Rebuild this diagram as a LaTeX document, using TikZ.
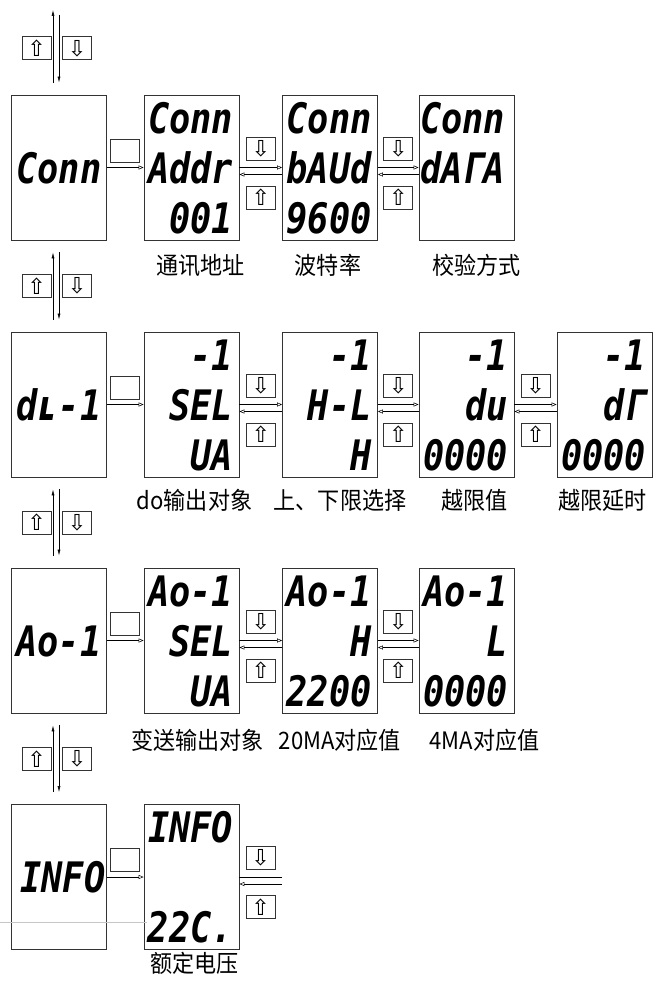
\documentclass[tikz,border=0pt]{standalone}
\usepackage{fontspec}
\usepackage{tikz}
\usetikzlibrary{arrows.meta,calc}
\newfontfamily\lcdfont{DejaVu Sans Mono}[FakeStretch=0.84]
\newfontfamily\symfont{DejaVu Sans}
\newfontfamily\cjk{Noto Sans CJK SC}[FakeStretch=0.92]
\tikzset{
  screen/.style={draw=black!80,line width=0.8pt,minimum width=95pt,minimum height=145pt,inner sep=0pt},
  lcd/.style={font=\lcdfont\bfseries\itshape\fontsize{42}{42}\selectfont,inner sep=0pt,text height=31pt,text depth=0pt},
  key/.style={draw=black!80,line width=0.6pt,minimum width=29pt,minimum height=23pt,inner sep=0pt,font=\symfont\fontsize{22}{22}\selectfont},
  caption/.style={font=\cjk\fontsize{24}{24}\selectfont,inner sep=0pt},
  link/.style={line width=0.5pt},
  updown/.style={line width=0.6pt,>={Latex[length=6pt,width=3pt]}},
}
% three right-aligned lines of one screen
\newcommand{\screenlines}[4]{%
  \node[lcd,anchor=east] (#1-a) at ([xshift=-6pt,yshift=50pt]#1.east) {#2};
  \node[lcd,anchor=east] (#1-b) at ([xshift=-6pt]#1.east) {#3};
  \node[lcd,anchor=east] (#1-c) at ([xshift=-6pt,yshift=-50pt]#1.east) {#4};
}
% forth and back between two screens of a row, keys above and below
\newcommand{\keylink}[2]{%
  \draw[link,->] (#1.east) -- (#2.west);
  \draw[link,<-] ([yshift=-7pt]#1.east) -- ([yshift=-7pt]#2.west);
  \node[key] (#1-dn) at ($(#1.east)!0.5!(#2.west)+(0,-19)$) {⇩};
  \node[key] (#1-up) at ($(#1.east)!0.5!(#2.west)+(0,30)$) {⇧};
}
% up/down between two menus of the first column
\newcommand{\menulink}[2]{%
  \draw[updown,<-] ([xshift=-6pt,yshift=-12pt]#1.south) -- ([xshift=-6pt,yshift=12pt]#2.north);
  \draw[updown,->] ([yshift=-12pt]#1.south) -- ([yshift=12pt]#2.north);
  \node[key] (#2-mu) at ($(#1.south)!0.5!(#2.north)+(-22.5,0)$) {⇧};
  \node[key] (#2-md) at ($(#1.south)!0.5!(#2.north)+(18,0)$) {⇩};
}

\begin{document}
\begin{tikzpicture}[x=1pt,y=-1pt,>={Triangle[open,length=5pt,width=4pt]}]
  \useasboundingbox (0,0) rectangle (656,982);
  % screens, rows Conn / dL-1 / Ao-1 / INFO
  \node[screen] (conn)      at (59,167.5) {};
  \node[screen] (conn-addr) at (191.5,167.5) {};
  \node[screen] (conn-baud) at (330,167.5) {};
  \node[screen] (conn-data) at (466.5,167.5) {};
  \node[screen] (dl)    at (59,404.5) {};
  \node[screen] (dl-sel) at (191.5,404.5) {};
  \node[screen] (dl-hl) at (330,404.5) {};
  \node[screen] (dl-du) at (466.5,404.5) {};
  \node[screen] (dl-dt) at (604.5,404.5) {};
  \node[screen] (ao)     at (59,640.5) {};
  \node[screen] (ao-sel) at (191.5,640.5) {};
  \node[screen] (ao-h)   at (330,640.5) {};
  \node[screen] (ao-l)   at (466.5,640.5) {};
  \node[screen] (info)      at (59,877) {};
  \node[screen] (info-volt) at (191.5,877) {};

  % what the screens show
  \node[lcd] (conn-t) at (conn) {Conn};
  \screenlines{conn-addr}{Conn}{Addr}{001}
  \screenlines{conn-baud}{Conn}{bAUd}{9600}
  \node[lcd,anchor=east] (conn-data-a) at ([xshift=-9pt,yshift=50pt]conn-data.east) {Conn};
  \node[lcd,anchor=east] (conn-data-b) at ([xshift=-9pt]conn-data.east) {dAΓA};
  \node[lcd] (dl-t) at (dl) {dʟ-1};
  \screenlines{dl-sel}{-1}{SEL}{UA}
  \screenlines{dl-hl}{-1}{H-L}{H}
  \screenlines{dl-du}{-1}{du}{0000}
  \screenlines{dl-dt}{-1}{dΓ}{0000}
  \node[lcd] (ao-t) at (ao) {Ao-1};
  \screenlines{ao-sel}{Ao-1}{SEL}{UA}
  \screenlines{ao-h}{Ao-1}{H}{2200}
  \screenlines{ao-l}{Ao-1}{L}{0000}
  \node[lcd] (info-t) at ([xshift=4pt]info) {INFO};
  \node[lcd,anchor=east] (info-volt-a) at ([xshift=-6pt,yshift=50pt]info-volt.east) {INFO};
  \node[lcd,anchor=west] (info-volt-c) at ([xshift=4pt,yshift=-50pt]info-volt.west) {22C.};

  % captions
  \node[caption] (cap-addr) at ([xshift=9pt,yshift=-25pt]conn-addr.south) {通讯地址};
  \node[caption] (cap-baud) at ([xshift=-2pt,yshift=-25pt]conn-baud.south) {波特率};
  \node[caption] (cap-data) at ([xshift=10pt,yshift=-25pt]conn-data.south) {校验方式};
  \node[caption] (cap-dsel) at ([xshift=3pt,yshift=-23pt]dl-sel.south) {do输出对象};
  \node[caption] (cap-hl)   at ([xshift=10pt,yshift=-23pt]dl-hl.south) {上、下限选择};
  \node[caption] (cap-du)   at ([xshift=8pt,yshift=-23pt]dl-du.south) {越限值};
  \node[caption] (cap-dt)   at ([xshift=-2pt,yshift=-23pt]dl-dt.south) {越限延时};
  \node[caption] (cap-asel) at ([xshift=6pt,yshift=-27pt]ao-sel.south) {变送输出对象};
  \node[caption] (cap-h)    at ([xshift=10pt,yshift=-27pt]ao-h.south) {20MA对应值};
  \node[caption] (cap-l)    at ([xshift=18pt,yshift=-27pt]ao-l.south) {4MA对应值};
  \node[caption] (cap-volt) at ([xshift=3pt,yshift=-13pt]info-volt.south) {额定电压};

  % entering the menu
  \coordinate (entry) at (59,10);
  \draw[updown,<-] ([xshift=-6pt]entry) -- ([xshift=-6pt,yshift=12pt]conn.north);
  \draw[updown,->] ([yshift=-5pt]entry) -- ([yshift=12pt]conn.north);
  \node[key] (conn-mu) at ($(entry)!0.5!(conn.north)+(-22.5,-4)$) {⇧};
  \node[key] (conn-md) at ($(entry)!0.5!(conn.north)+(18,-4)$) {⇩};
  \menulink{conn}{dl}
  \menulink{dl}{ao}
  \menulink{ao}{info}

  % into each menu
  \foreach \m/\s in {conn/conn-addr,dl/dl-sel,ao/ao-sel,info/info-volt}{
    \draw[link,->] (\m.east) -- (\s.west);
    \node[key] (\m-ok) at ($(\m.east)!0.5!(\s.west)+(0,-17)$) {};
  }

  % along each row
  \keylink{conn-addr}{conn-baud}
  \keylink{conn-baud}{conn-data}
  \keylink{dl-sel}{dl-hl}
  \keylink{dl-hl}{dl-du}
  \keylink{dl-du}{dl-dt}
  \keylink{ao-sel}{ao-h}
  \keylink{ao-h}{ao-l}

  % last screen, open to the right
  \coordinate (info-end) at (282,877);
  \draw[link] (info-volt.east) -- (info-end);
  \draw[link,<-] ([yshift=-7pt]info-volt.east) -- ([yshift=-7pt]info-end);
  \node[key] (info-volt-dn) at ($(info-volt.east)!0.5!(info-end)+(0,-19)$) {⇩};
  \node[key] (info-volt-up) at ($(info-volt.east)!0.5!(info-end)+(0,30)$) {⇧};

  \draw[gray!45,line width=0.5pt] (0,922) -- (147,922);
\end{tikzpicture}
\end{document}
